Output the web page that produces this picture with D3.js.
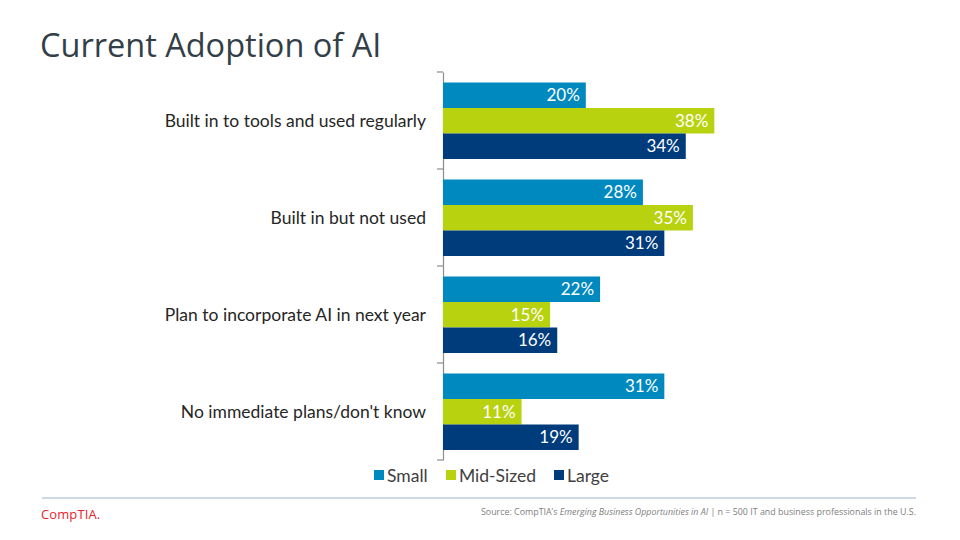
<!DOCTYPE html>
<html><head><meta charset="utf-8">
<script src="https://cdn.jsdelivr.net/npm/d3@7"></script>
<style>body{margin:0;background:#fff}svg{display:block}</style>
</head><body><svg id="c" width="960" height="540" font-family="Lato, 'Open Sans', sans-serif"></svg>
<script>
const categories = ["Built in to tools and used regularly","Built in but not used","Plan to incorporate AI in next year","No immediate plans/don't know"];
const seriesNames = ["Small","Mid-Sized","Large"];
const small = [20,28,22,31];
const midSized = [38,35,15,11];
const large = [34,31,16,19];
const colors = ["#0089BF","#B8D20F","#003B7C"];
const seriesValues = [small, midSized, large];

const svg = d3.select("#c");
svg.append("text").attr("x",40).attr("y",57).attr("font-size",32.5).attr("fill","#333F48").attr("font-family","'Open Sans',sans-serif").text("Current Adoption of AI");

const x0 = 443;
const x = d3.scaleLinear().domain([0,100]).range([x0, x0+714]);
const y = d3.scaleBand().domain(categories).range([72,460]).padding(0);
const ys = d3.scaleBand().domain(seriesNames).range([10.5, 87]).padding(0);

// axis
const axis = d3.axisLeft(y).tickSize(0).tickFormat("");
const ag = svg.append("g").attr("transform",`translate(${x0},0)`).call(axis);
ag.select(".domain").attr("stroke","#8c8c8c").attr("stroke-width",1.2);
const bounds = categories.map(c=>y(c)).concat([y.range()[1]]);
svg.append("g").selectAll("line").data(bounds).join("line")
  .attr("x1",x0-6).attr("x2",x0).attr("y1",d=>d).attr("y2",d=>d)
  .attr("stroke","#8c8c8c").attr("stroke-width",1.2);

// category labels
svg.append("g").selectAll("text").data(categories).join("text")
  .attr("x",426).attr("y",d=>y(d)+y.bandwidth()/2+6).attr("text-anchor","end")
  .attr("font-size",17.5).attr("fill","#262626").text(d=>d);

// bars
seriesNames.forEach((s,si)=>{
  const g = svg.append("g");
  g.selectAll("rect").data(categories).join("rect")
    .attr("x",x0).attr("y",(c)=>y(c)+ys(s)).attr("height",ys.bandwidth())
    .attr("width",(c,i)=>x(seriesValues[si][i])-x0).attr("fill",colors[si]);
  g.selectAll("text").data(categories).join("text")
    .attr("x",(c,i)=>x(seriesValues[si][i])-6).attr("y",c=>y(c)+ys(s)+ys.bandwidth()/2+6)
    .attr("text-anchor","end").attr("font-size",17).attr("fill","#fff")
    .text((c,i)=>seriesValues[si][i]+"%");
});

// legend
const legX = [374,446,554];
const lg = svg.append("g");
seriesNames.forEach((s,i)=>{
  lg.append("rect").attr("x",legX[i]).attr("y",470).attr("width",10).attr("height",10).attr("fill",colors[i]);
  lg.append("text").attr("x",legX[i]+13).attr("y",481.5).attr("font-size",17.5).attr("fill","#404040").text(s);
});

// footer
svg.append("line").attr("x1",42).attr("x2",916).attr("y1",498).attr("y2",498).attr("stroke","#9DB3C6").attr("stroke-width",1);
svg.append("text").attr("x",41).attr("y",519).attr("font-size",13).attr("fill","#E8232B").attr("font-family","'Open Sans',sans-serif").attr("letter-spacing",0.1).text("CompTIA.");
const src = svg.append("text").attr("x",916).attr("y",515).attr("text-anchor","end").attr("font-size",8.9).attr("fill","#808080").attr("font-family","'Open Sans',sans-serif");
src.append("tspan").text("Source:  CompTIA\u2019s ");
src.append("tspan").attr("font-style","italic").text("Emerging Business Opportunities  in AI");
src.append("tspan").text("  |  n = 500  IT and business professionals  in the U.S.");
</script></body></html>
